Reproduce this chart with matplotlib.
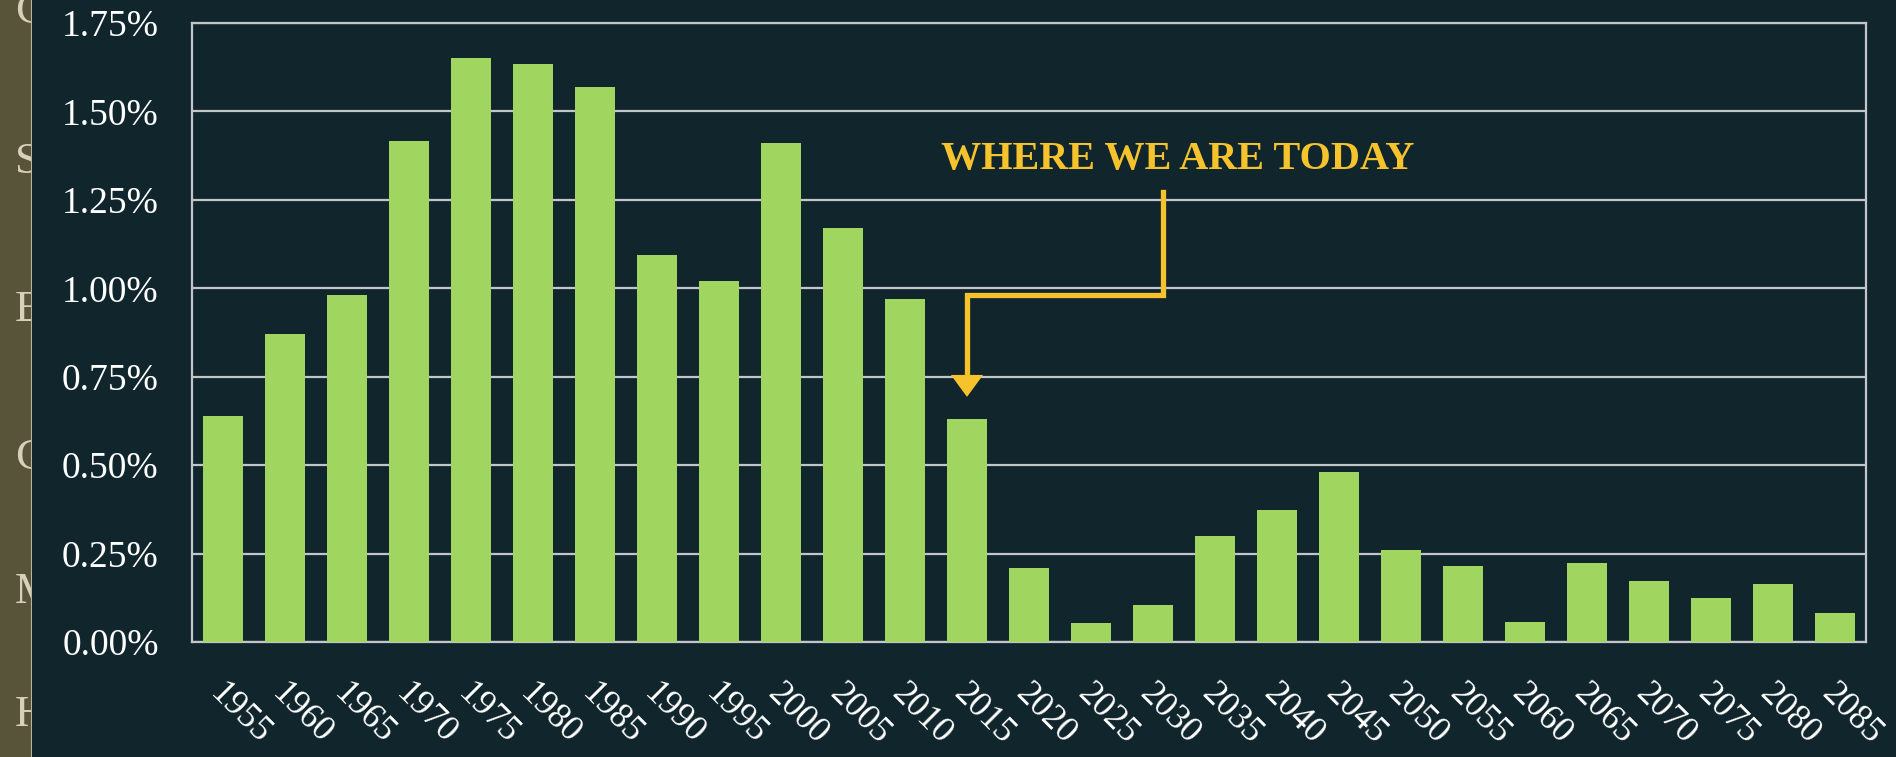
import matplotlib
matplotlib.use("Agg")
import matplotlib.pyplot as plt
from matplotlib.patches import Rectangle
from matplotlib.lines import Line2D
from matplotlib.ticker import FuncFormatter
from matplotlib.transforms import ScaledTranslation

# data (percent)
years = [1955, 1960, 1965, 1970, 1975, 1980, 1985, 1990, 1995, 2000,
         2005, 2010, 2015, 2020, 2025, 2030, 2035, 2040, 2045, 2050,
         2055, 2060, 2065, 2070, 2075, 2080, 2085]
growth = [0.64, 0.87, 0.98, 1.415, 1.65, 1.635, 1.57, 1.095, 1.02, 1.41,
          1.17, 0.97, 0.63, 0.21, 0.054, 0.105, 0.30, 0.373, 0.48, 0.26,
          0.215, 0.056, 0.223, 0.173, 0.125, 0.165, 0.082]
yticks = [0, 0.25, 0.5, 0.75, 1.0, 1.25, 1.5, 1.75]
today = 2015
side_letters = ["C", "S", "E", "C", "M", "H"]
side_y = [12, 162, 310, 458, 592, 715]

bg = "#10252C"
bar_color = "#A0D65F"
grid_color = "#C3C6C8"
yellow = "#F6C32C"
serif = ["Liberation Serif", "DejaVu Serif"]

W, H = 1896, 757
fig = plt.figure(figsize=(W / 100, H / 100), dpi=100)
fig.patch.set_facecolor("#58543A")

# bits of slide text peeking out on the left
for letter, yy in zip(side_letters, side_y):
    fig.text(15 / W, 1 - yy / H, letter, fontsize=32, family=serif,
             color="#D8D1BA", va="center", ha="left", zorder=1)

panel = Rectangle((32 / W, 0), 1, 1, transform=fig.transFigure,
                  facecolor=bg, edgecolor="none", zorder=2)
fig.patches.append(panel)
fig.lines.append(Line2D([32 / W, 32 / W], [0, 1], transform=fig.transFigure,
                        color="#B9B5A2", linewidth=1.5, zorder=2))

ax = fig.add_axes([192 / W, 1 - 642 / H, (1866 - 192) / W, (642 - 23) / H])
ax.set_zorder(3)
ax.set_facecolor(bg)

x = list(range(len(years)))
ax.bar(x, growth, width=0.64, color=bar_color, zorder=3)

ax.set_xlim(-0.5, len(years) - 0.5)
ax.set_ylim(0, 1.75)
ax.set_yticks(yticks)
ax.yaxis.set_major_formatter(FuncFormatter(lambda v, p: f"{v:.2f}%"))
ax.grid(axis="y", color=grid_color, linewidth=1.6, zorder=1)
for s in ax.spines.values():
    s.set_color(grid_color)
    s.set_linewidth(1.6)

ax.set_xticks(x)
ax.set_xticklabels([str(y) for y in years], rotation=-45, ha="left",
                   va="center", rotation_mode="anchor", family=serif)
ax.tick_params(axis="x", length=0, pad=34, labelsize=25.5, labelcolor="white")
ax.tick_params(axis="y", length=0, pad=24, labelsize=27, labelcolor="white")
for lab in ax.get_yticklabels():
    lab.set_family(serif)
shift = ScaledTranslation(-8 / 100, 0, fig.dpi_scale_trans)
for lab in ax.get_xticklabels():
    lab.set_transform(lab.get_transform() + shift)

# "where we are today" callout
ti = years.index(today)
ax.text(15.4, 1.365, "WHERE WE ARE TODAY", color=yellow, fontsize=29,
        fontweight="bold", family=serif, ha="center", va="center", zorder=5)
ax.plot([15.16, 15.16, ti, ti], [1.273, 0.981, 0.981, 0.75], color=yellow,
        linewidth=3.8, solid_joinstyle="miter", zorder=5)
ax.fill([ti - 0.26, ti + 0.26, ti], [0.755, 0.755, 0.693], color=yellow,
        zorder=5, linewidth=0)

fig.savefig("out.png", dpi=100, facecolor=fig.get_facecolor())
